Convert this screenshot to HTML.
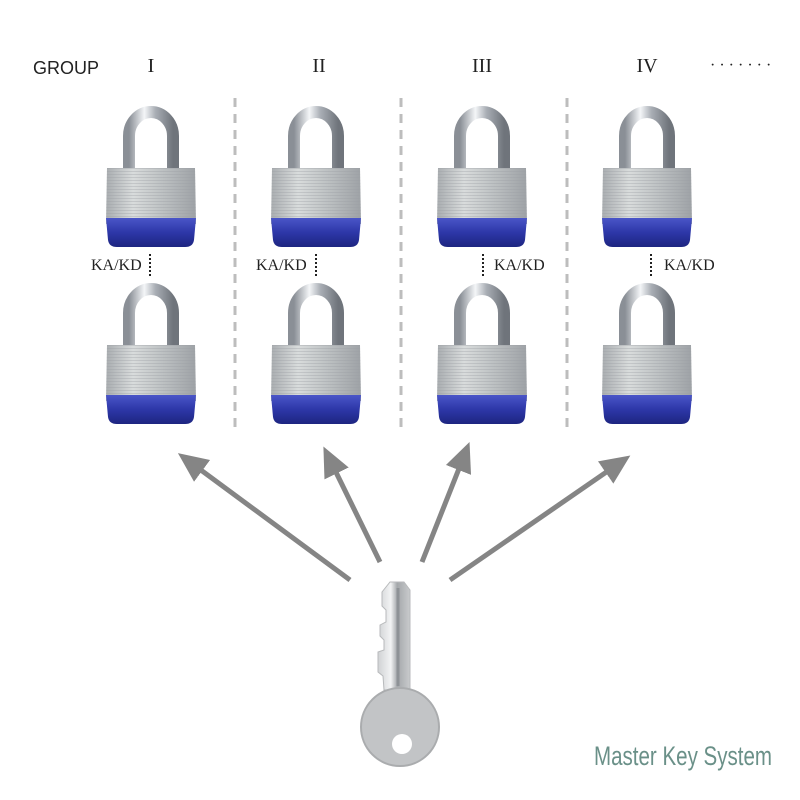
<!DOCTYPE html>
<html><head><meta charset="utf-8"><style>
html,body{margin:0;padding:0;background:#fff;}
svg{display:block}
</style></head><body>
<svg width="800" height="800" viewBox="0 0 800 800" xmlns="http://www.w3.org/2000/svg">
<defs>
<linearGradient id="shk" x1="0" x2="1" y1="0" y2="0">
<stop offset="0" stop-color="#8a8f96"/><stop offset="0.35" stop-color="#f4f6f8"/><stop offset="0.6" stop-color="#a9aeb5"/><stop offset="1" stop-color="#6f747b"/>
</linearGradient>
<linearGradient id="bod" x1="0" x2="1" y1="0" y2="0">
<stop offset="0" stop-color="#a9adb0"/><stop offset="0.3" stop-color="#d9dcdc"/><stop offset="0.55" stop-color="#c4c8c9"/><stop offset="1" stop-color="#9ea2a6"/>
</linearGradient>
<linearGradient id="blu" x1="0" x2="0" y1="0" y2="1">
<stop offset="0" stop-color="#4a55c8"/><stop offset="0.5" stop-color="#2d37a8"/><stop offset="1" stop-color="#1d2580"/>
</linearGradient>
<linearGradient id="keyg" x1="0" x2="1" y1="0" y2="0">
<stop offset="0" stop-color="#d0d2d4"/><stop offset="0.4" stop-color="#f2f3f4"/><stop offset="0.6" stop-color="#a4a7aa"/><stop offset="1" stop-color="#c9cbcd"/>
</linearGradient>
<pattern id="lines" width="4" height="3" patternUnits="userSpaceOnUse">
<rect y="2" width="4" height="1" fill="#9a9ea2" opacity="0.35"/>
</pattern>
<g id="lock">
<path d="M-22,64 L-22,30 A22,24 0 0 1 22,30 L22,64" fill="none" stroke="url(#shk)" stroke-width="12"/>
<path d="M-44,62 L44,62 L45,118 L-45,118 Z" fill="url(#bod)"/>
<path d="M-44,62 L44,62 L45,118 L-45,118 Z" fill="url(#lines)"/>
<path d="M-45,112 L45,112 L43,134 Q42,141 34,141 L-34,141 Q-42,141 -43,134 Z" fill="url(#blu)"/>
</g>
<marker id="ah" markerWidth="6" markerHeight="6" refX="3" refY="3" orient="auto" markerUnits="strokeWidth">
<path d="M0,0.3 L6,3 L0,5.7 Z" fill="#858585"/>
</marker>
</defs>

<g font-family="Liberation Serif, serif" font-size="20" fill="#222">
<text x="33" y="74" font-family="Liberation Sans, sans-serif" font-size="18">GROUP</text>
<text x="151" y="72" text-anchor="middle">I</text>
<text x="319" y="72" text-anchor="middle">II</text>
<text x="482" y="72" text-anchor="middle">III</text>
<text x="647" y="72" text-anchor="middle">IV</text>
<text x="710" y="70" font-size="16">· · · · · · ·</text>
</g>

<g stroke="#bdbdbd" stroke-width="3" stroke-dasharray="9,7">
<line x1="235" y1="98" x2="235" y2="430"/>
<line x1="401" y1="98" x2="401" y2="430"/>
<line x1="567" y1="98" x2="567" y2="430"/>
</g>

<use href="#lock" x="151" y="106"/>
<use href="#lock" x="316" y="106"/>
<use href="#lock" x="482" y="106"/>
<use href="#lock" x="647" y="106"/>
<use href="#lock" x="151" y="283"/>
<use href="#lock" x="316" y="283"/>
<use href="#lock" x="482" y="283"/>
<use href="#lock" x="647" y="283"/>

<g font-family="Liberation Serif, serif" font-size="16" fill="#222">
<text x="91" y="270">KA/KD</text>
<text x="256" y="270">KA/KD</text>
<text x="494" y="270">KA/KD</text>
<text x="664" y="270">KA/KD</text>
</g>
<g stroke="#222" stroke-width="2" stroke-dasharray="2,2">
<line x1="150" y1="254" x2="150" y2="276"/>
<line x1="316" y1="254" x2="316" y2="276"/>
<line x1="483" y1="254" x2="483" y2="276"/>
<line x1="651" y1="254" x2="651" y2="276"/>
</g>

<g stroke="#858585" stroke-width="5" marker-end="url(#ah)">
<line x1="350" y1="580" x2="190" y2="462"/>
<line x1="380" y1="562" x2="330" y2="460"/>
<line x1="422" y1="562" x2="464" y2="456"/>
<line x1="450" y1="580" x2="618" y2="464"/>
</g>

<g>
<path d="M390,582 L404,582 L410,590 L410,690 L384,690 L383,676 L378,672 L378,652 L384,650 L384,640 L380,636 L380,625 L386,622 L386,610 L382,606 L382,592 Z" fill="url(#keyg)" stroke="#b8babc" stroke-width="1"/>
<line x1="398" y1="588" x2="398" y2="686" stroke="#8e9296" stroke-width="3"/>
<circle cx="400" cy="727" r="39" fill="#c2c4c6" stroke="#aaacae" stroke-width="2"/>
<circle cx="402" cy="744" r="10" fill="#fff"/>
</g>

<text x="594" y="765" font-family="Liberation Sans Narrow, Liberation Sans, sans-serif" font-size="27" fill="#6a9088" textLength="178" lengthAdjust="spacingAndGlyphs">Master Key System</text>
</svg>
</body></html>
